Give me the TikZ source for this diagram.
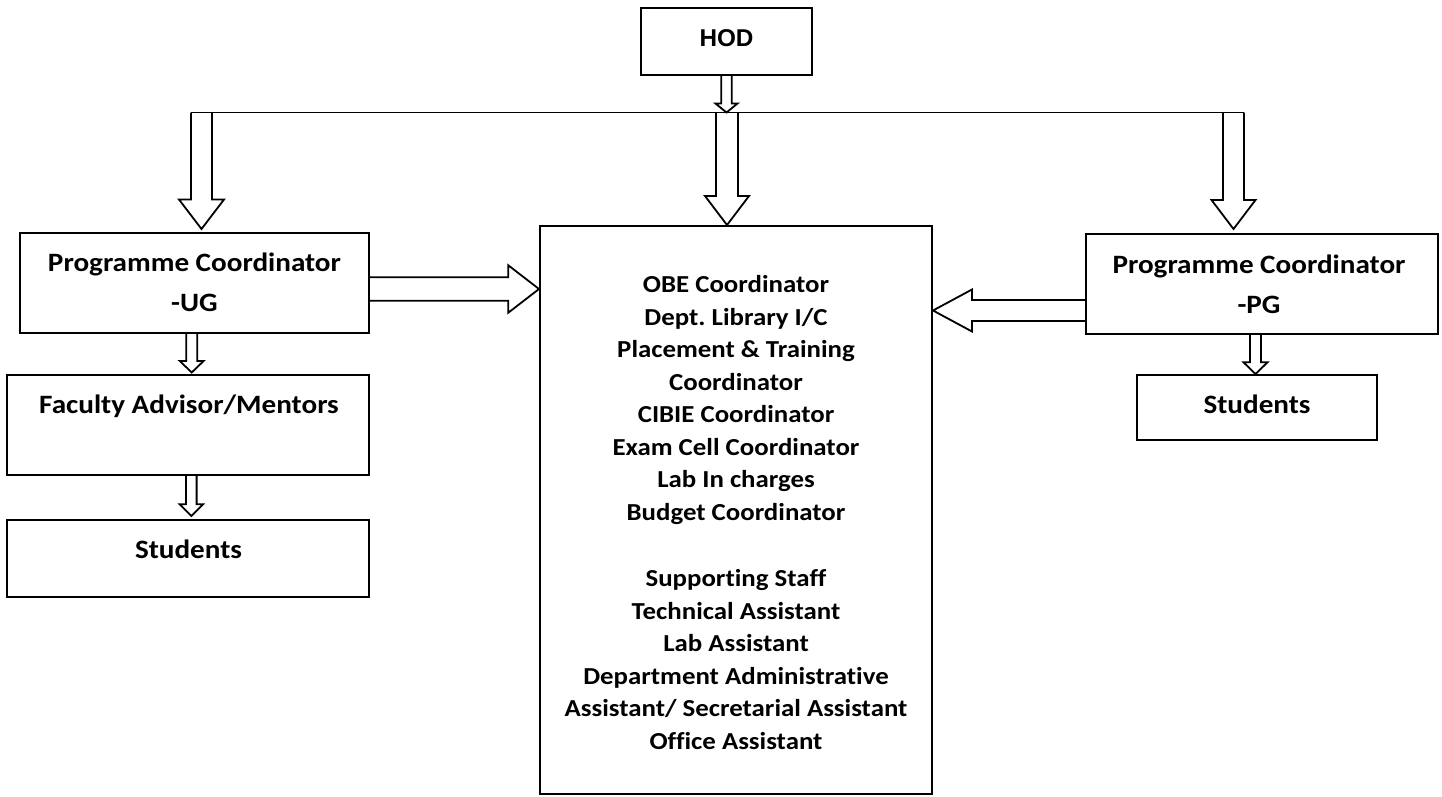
\documentclass[tikz,border=0pt]{standalone}
\usepackage{fontspec}
\setmainfont{Carlito}[FakeStretch=1.1, Ligatures={NoCommon,NoRequired,NoContextual}]
\newfontfamily\arialfont{Liberation Sans}
\usetikzlibrary{calc}
\frenchspacing
\tikzset{
  box/.style={draw, line width=2pt, inner sep=0pt, minimum width=#1},
  blk/.style={draw, line width=1.8pt, line join=miter},
  lbl/.style={inner sep=0pt, anchor=base, align=center, font=\bfseries\fontsize{26.5}{40}\selectfont},
  midlbl/.style={inner sep=0pt, anchor=base, align=center, font=\bfseries\fontsize{24.4}{32.5}\selectfont},
}
\newcommand{\bkdown}[5]{%
  \draw[blk] let \p1=(#1), \p2=(#2) in
    (\x1-#3pt,\y1) -- (\x1-#3pt,\y2+#5pt) -- (\x1-#4pt,\y2+#5pt) -- (\x1,\y2)
    -- (\x1+#4pt,\y2+#5pt) -- (\x1+#3pt,\y2+#5pt) -- (\x1+#3pt,\y1);}
\newcommand{\bkright}[5]{%
  \draw[blk] let \p1=(#1), \p2=(#2) in
    (\x1,\y1+#3pt) -- (\x2-#5pt,\y1+#3pt) -- (\x2-#5pt,\y1+#4pt) -- (\x2,\y1)
    -- (\x2-#5pt,\y1-#4pt) -- (\x2-#5pt,\y1-#3pt) -- (\x1,\y1-#3pt);}
\newcommand{\bkleft}[5]{%
  \draw[blk] let \p1=(#1), \p2=(#2) in
    (\x1,\y1+#3pt) -- (\x2+#5pt,\y1+#3pt) -- (\x2+#5pt,\y1+#4pt) -- (\x2,\y1)
    -- (\x2+#5pt,\y1-#4pt) -- (\x2+#5pt,\y1-#3pt) -- (\x1,\y1-#3pt);}
\begin{document}
\begin{tikzpicture}[x=1pt,y=-1pt]
\useasboundingbox[fill=white] (0,0) rectangle (1442,796);

% boxes
\node[box=171pt, minimum height=67pt] (hod) at (726.5,41.5) {};
\node[box=349pt, minimum height=100pt] (ug) at (194.5,283) {};
\node[box=362pt, minimum height=100pt] (fac) at (188,425) {};
\node[box=362pt, minimum height=77pt] (stul) at (188,558.5) {};
\node[box=392pt, minimum height=568pt] (mid) at (736,510) {};
\node[box=352pt, minimum height=100pt] (pg) at (1262,284) {};
\node[box=240pt, minimum height=65pt] (stur) at (1257,407.5) {};

% texts (base anchor = baseline of the last line)
\node[inner sep=0pt, anchor=base, font=\arialfont\bfseries\fontsize{24.3}{29}\selectfont] (hodT) at (726.5,46.7) {HOD};
\node[lbl] (ugT) at (194.5,311.7) {Programme Coordinator\\-UG};
\node[lbl] (facT) at (189,413.3) {Faculty Advisor/Mentors};
\node[lbl] (stulT) at (188.5,558.3) {Students};
\node[lbl] (pgT) at (1259,313.3) {Programme Coordinator\\-PG};
\node[lbl] (sturT) at (1257,413.3) {Students};
\node[midlbl] (midT) at (736,749.3) {OBE Coordinator\\Dept. Library I/C\\Placement \& Training\\Coordinator\\CIBIE Coordinator\\Exam Cell Coordinator\\Lab In charges\\Budget Coordinator\\[34pt]Supporting Staff\\Technical Assistant\\Lab Assistant\\Department Administrative\\Assistant/ Secretarial Assistant\\Office Assistant};

% horizontal distribution line
\coordinate (hl) at (191,112.5);
\coordinate (hr) at (1244,112.5);
\draw[line width=1.8pt] (hl) -- (hr);
\coordinate (la) at (201.5,112.5);
\coordinate (ca) at (727,112.5);
\coordinate (ra) at (1233.5,112.5);

% HOD to line
\bkdown{hod.south}{$(hod.south |- hl)$}{5.3}{11}{9}
% line to boxes
\bkdown{la}{$(la |- ug.north)+(0,-3)$}{10.5}{22.5}{29.5}
\bkdown{ca}{$(ca |- mid.north)$}{11}{22}{29}
\bkdown{ra}{$(ra |- pg.north)+(0,-4)$}{10.5}{22}{29}

% side arrows into middle box
\coordinate (ue) at ($(ug.east)+(0,6)$);
\coordinate (pw) at ($(pg.west)+(0,26.5)$);
\bkright{ue}{$(mid.west |- ue)$}{11.7}{23.7}{30.7}
\bkleft{pw}{$(mid.east |- pw)$}{10.5}{21}{39}

% small down arrows
\coordinate (us) at (191.7,333);
\bkdown{us}{$(us |- fac.north)+(0,-1.5)$}{5.5}{12}{11.6}
\coordinate (fs) at (191.3,475);
\bkdown{fs}{$(fs |- stul.north)+(0,-3)$}{5.3}{11.7}{11.7}
\coordinate (ps) at (1255.5,334);
\bkdown{ps}{$(ps |- stur.north)$}{5.5}{12}{11.7}
\end{tikzpicture}
\end{document}
